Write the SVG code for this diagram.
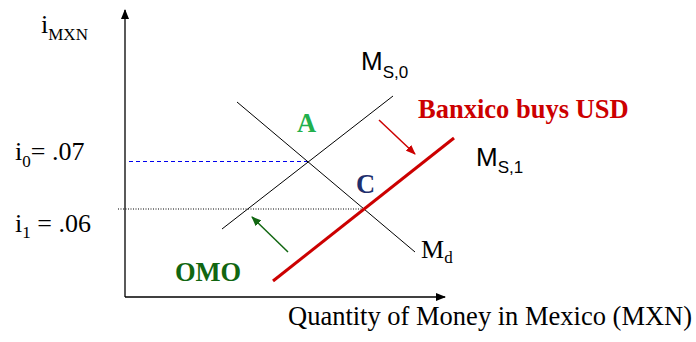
<svg xmlns="http://www.w3.org/2000/svg" width="696" height="342" viewBox="0 0 696 342">
<style>
.serif{font-family:"Liberation Serif","Times New Roman",serif}
.sans{font-family:"Liberation Sans",Arial,sans-serif}
.lbl{font-size:26px;fill:#000}
.sub{font-size:17px}
.bold{font-weight:bold;font-size:26.5px}
.thin{stroke:#000;stroke-width:1;fill:none}
</style>
<defs>
<marker id="ah" markerWidth="10" markerHeight="8" refX="9" refY="4" orient="auto" markerUnits="userSpaceOnUse"><path d="M0,0 L10,4 L0,8 z" fill="#000"/></marker>
<marker id="ahr" markerWidth="10" markerHeight="8" refX="9" refY="4" orient="auto" markerUnits="userSpaceOnUse"><path d="M0,0 L10,4 L0,8 z" fill="#cc0000"/></marker>
<marker id="ahg" markerWidth="10" markerHeight="8" refX="9" refY="4" orient="auto" markerUnits="userSpaceOnUse"><path d="M0,0 L10,4 L0,8 z" fill="#116611"/></marker>
</defs>
<g id="axes">
<line x1="125" y1="297" x2="125" y2="10" stroke="#000" stroke-width="1.3" marker-end="url(#ah)"/>
<line x1="125" y1="297" x2="445" y2="297" stroke="#000" stroke-width="1.3" marker-end="url(#ah)"/>
</g>
<g id="connectors">
<line x1="129" y1="161.5" x2="308" y2="161.5" stroke="#0000ee" stroke-width="1" stroke-dasharray="4,3"/>
<line x1="118" y1="209" x2="363" y2="209" stroke="#000" stroke-width="1" stroke-dasharray="1,1.5"/>
<line x1="379" y1="120" x2="415" y2="154" stroke="#cc0000" stroke-width="1.5" marker-end="url(#ahr)"/>
<line x1="288" y1="252" x2="252" y2="217" stroke="#116611" stroke-width="1.5" marker-end="url(#ahg)"/>
</g>
<g id="Ms0">
<line class="thin" x1="222" y1="229" x2="393" y2="96"/>
<text class="sans lbl" x="361" y="70">M<tspan class="sub" dy="8">S,0</tspan></text>
</g>
<g id="Md">
<line class="thin" x1="237" y1="102" x2="415" y2="252"/>
<text class="serif lbl" x="421" y="258">M<tspan class="sub" dy="5">d</tspan></text>
</g>
<g id="Ms1">
<line x1="273" y1="281" x2="454" y2="138" stroke="#cc0000" stroke-width="3"/>
<text class="sans lbl" x="476" y="166">M<tspan class="sub" dy="7">S,1</tspan></text>
</g>
<g id="yLabel">
<text class="serif lbl" x="41" y="33">i<tspan class="sub" dy="7">MXN</tspan></text>
</g>
<g id="i0">
<text class="serif lbl" x="15" y="160">i<tspan class="sub" dy="7">0</tspan><tspan dy="-7">= .07</tspan></text>
</g>
<g id="i1">
<text class="serif lbl" x="15" y="232">i<tspan class="sub" dy="6">1</tspan><tspan dy="-6"> = .06</tspan></text>
</g>
<g id="A"><text class="serif bold" x="297" y="132" fill="#22b04c">A</text></g>
<g id="C"><text class="serif bold" x="356" y="193" fill="#1f2f6e">C</text></g>
<g id="banxico"><text class="serif bold" x="418" y="118" fill="#cc0000">Banxico buys USD</text></g>
<g id="omo"><text class="serif bold" x="175" y="281" fill="#116611">OMO</text></g>
<g id="xLabel"><text class="serif lbl" x="288" y="325" style="font-size:26.5px">Quantity of Money in Mexico (MXN)</text></g>
</svg>
